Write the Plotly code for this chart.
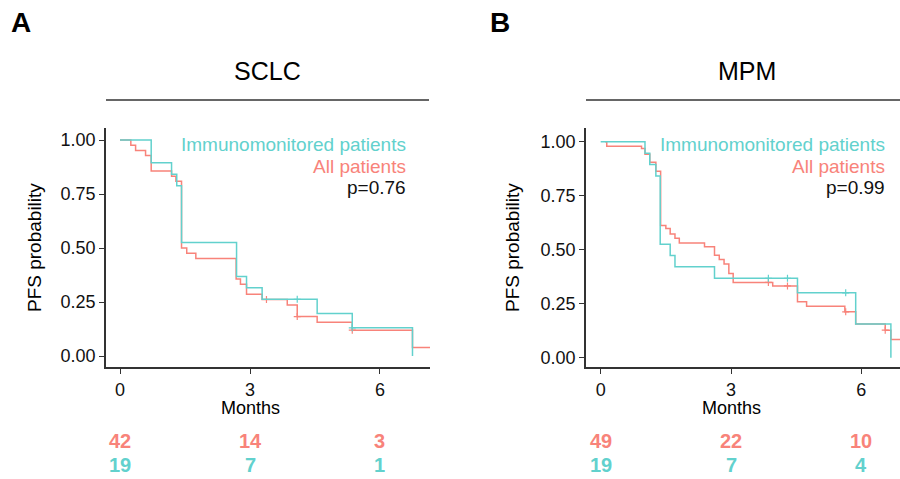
import plotly.graph_objects as go

W, H = 900, 479
CYAN = "#62d1cd"
RED = "#f8837a"
FONT = "Liberation Sans, Arial, Helvetica, sans-serif"

# ---------------- data ----------------
# Panel A : SCLC
a_cyan_t = [0, 0.72, 1.19, 1.31, 1.42, 2.69, 2.92, 3.28, 4.55, 5.36, 6.75]
a_cyan_s = [1.0, 0.895, 0.842, 0.789, 0.526, 0.368, 0.316, 0.263, 0.197, 0.131, 0.0]
a_cyan_cens_t = [4.09, 5.36]
a_cyan_cens_s = [0.263, 0.131]

a_red_t = [0, 0.25, 0.36, 0.59, 0.72, 1.19, 1.29, 1.42, 1.54, 1.75, 2.68, 2.78, 2.92,
           3.28, 3.86, 4.09, 4.55, 5.36, 6.75, 7.4]
a_red_s = [1.0, 0.976, 0.952, 0.929, 0.857, 0.833, 0.81, 0.5, 0.476, 0.452, 0.357, 0.333,
           0.286, 0.262, 0.236, 0.183, 0.157, 0.12, 0.04, 0.04]
a_red_cens_t = [3.38, 4.09, 5.36]
a_red_cens_s = [0.262, 0.183, 0.12]

# Panel B : MPM
b_cyan_t = [0, 1.02, 1.13, 1.27, 1.37, 1.6, 1.71, 2.62, 4.53, 5.87, 6.68]
b_cyan_s = [1.0, 0.947, 0.895, 0.842, 0.526, 0.474, 0.421, 0.368, 0.301, 0.156, 0.0]
b_cyan_cens_t = [3.86, 4.3, 5.64]
b_cyan_cens_s = [0.368, 0.368, 0.301]

b_red_t = [0.1, 0.14, 0.94, 1.02, 1.13, 1.27, 1.38, 1.5, 1.6, 1.71, 1.81, 2.39, 2.62, 2.73,
           2.84, 2.95, 3.05, 3.96, 4.53, 4.74, 5.62, 5.87, 6.55, 6.68, 7.3]
b_red_s = [1.0, 0.98, 0.969, 0.943, 0.905, 0.864, 0.612, 0.599, 0.573, 0.554, 0.532, 0.514,
           0.475, 0.455, 0.434, 0.39, 0.349, 0.333, 0.259, 0.239, 0.213, 0.156, 0.128, 0.085, 0.085]
b_red_cens_t = [3.86, 4.3, 5.64, 6.55]
b_red_cens_s = [0.349, 0.333, 0.213, 0.128]

x_ticks = [0, 3, 6]
y_ticks = [0, 0.25, 0.5, 0.75, 1.0]
y_ticklabels = ["0.00", "0.25", "0.50", "0.75", "1.00"]

panels = ["SCLC", "MPM"]
panel_letters = ["A", "B"]
p_values = ["p=0.76", "p=0.99"]
risk_all = [[42, 14, 3], [49, 22, 10]]
risk_immuno = [[19, 7, 1], [19, 7, 4]]
legend_immuno = "Immunomonitored patients"
legend_all = "All patients"


def px(x):
    return x / W


def py(y):
    return 1 - y / H


fig = go.Figure()

series = [
    (a_cyan_t, a_cyan_s, a_cyan_cens_t, a_cyan_cens_s, a_red_t, a_red_s, a_red_cens_t, a_red_cens_s),
    (b_cyan_t, b_cyan_s, b_cyan_cens_t, b_cyan_cens_s, b_red_t, b_red_s, b_red_cens_t, b_red_cens_s),
]

for i, (ct, cs, cct, ccs, rt, rs, rct, rcs) in enumerate(series):
    xa = "x" if i == 0 else "x2"
    ya = "y" if i == 0 else "y2"
    fig.add_trace(go.Scatter(x=rt, y=rs, mode="lines", line=dict(color=RED, width=1.5, shape="hv"),
                             xaxis=xa, yaxis=ya, showlegend=False, hoverinfo="skip"))
    fig.add_trace(go.Scatter(x=rct, y=rcs, mode="markers",
                             marker=dict(symbol="cross-thin", size=5, line=dict(color=RED, width=1.2)),
                             xaxis=xa, yaxis=ya, showlegend=False, hoverinfo="skip"))
    fig.add_trace(go.Scatter(x=ct, y=cs, mode="lines", line=dict(color=CYAN, width=1.5, shape="hv"),
                             xaxis=xa, yaxis=ya, showlegend=False, hoverinfo="skip"))
    fig.add_trace(go.Scatter(x=cct, y=ccs, mode="markers",
                             marker=dict(symbol="cross-thin", size=5, line=dict(color=CYAN, width=1.2)),
                             xaxis=xa, yaxis=ya, showlegend=False, hoverinfo="skip"))

axis_common = dict(showgrid=False, zeroline=False, showline=True, linecolor="#333", linewidth=1.5,
                   ticks="outside", ticklen=5, tickwidth=1, tickcolor="#333",
                   tickfont=dict(family=FONT, size=18, color="#111"), fixedrange=True)

fig.update_layout(
    width=W, height=H, margin=dict(l=0, r=0, t=0, b=0),
    plot_bgcolor="white", paper_bgcolor="white",
    xaxis=dict(domain=[px(106), px(430)], range=[-0.323, 7.154], tickvals=x_ticks,
               anchor="y", **axis_common),
    yaxis=dict(domain=[py(367.3), py(128)], range=[-0.052, 1.056], tickvals=y_ticks,
               ticktext=y_ticklabels, anchor="x", **axis_common),
    xaxis2=dict(domain=[px(586), px(900)], range=[-0.338, 6.89], tickvals=x_ticks,
                anchor="y2", **axis_common),
    yaxis2=dict(domain=[py(367.3), py(128)], range=[-0.044, 1.064], tickvals=y_ticks,
                ticktext=y_ticklabels, anchor="x2", **axis_common),
)

ann = []
shapes = []
layout_px = [
    dict(letter_x=21, title_x=267, line=(106, 429), ytitle_x=35, months_x=250, legend_x=408, xa="x", ya="y"),
    dict(letter_x=500, title_x=747, line=(586, 900), ytitle_x=513, months_x=731, legend_x=887, xa="x2", ya="y2"),
]
for i, L in enumerate(layout_px):
    ann.append(dict(text="<b>%s</b>" % panel_letters[i], x=px(L["letter_x"]), y=py(23), xref="paper", yref="paper",
                    showarrow=False, font=dict(family=FONT, size=28, color="black"), xanchor="center", yanchor="middle"))
    ann.append(dict(text=panels[i], x=px(L["title_x"]), y=py(71), xref="paper", yref="paper",
                    showarrow=False, font=dict(family=FONT, size=25, color="black"), xanchor="center", yanchor="middle"))
    shapes.append(dict(type="line", xref="paper", yref="paper", x0=px(L["line"][0]), x1=px(L["line"][1]),
                       y0=py(100), y1=py(100), line=dict(color="#333", width=1.5)))
    ann.append(dict(text="PFS probability", x=px(L["ytitle_x"]), y=py(248), xref="paper", yref="paper",
                    textangle=-90, showarrow=False, font=dict(family=FONT, size=19, color="black"),
                    xanchor="center", yanchor="middle"))
    ann.append(dict(text="Months", x=px(L["months_x"]), y=py(408), xref="paper", yref="paper",
                    showarrow=False, font=dict(family=FONT, size=18, color="black"), xanchor="center", yanchor="middle"))
    for txt, yy, col in [(legend_immuno, 144, CYAN), (legend_all, 166, RED), (p_values[i], 187, "#111")]:
        ann.append(dict(text=txt, x=px(L["legend_x"]), y=py(yy), xref="paper", yref="paper",
                        showarrow=False, font=dict(family=FONT, size=19, color=col), xanchor="right", yanchor="middle"))
    for j, t in enumerate(x_ticks):
        ann.append(dict(text="<b>%d</b>" % risk_all[i][j], x=t, y=py(441), xref=L["xa"], yref="paper",
                        showarrow=False, font=dict(family=FONT, size=20, color=RED), xanchor="center", yanchor="middle"))
        ann.append(dict(text="<b>%d</b>" % risk_immuno[i][j], x=t, y=py(465), xref=L["xa"], yref="paper",
                        showarrow=False, font=dict(family=FONT, size=20, color=CYAN), xanchor="center", yanchor="middle"))

fig.update_layout(annotations=ann, shapes=shapes)
fig.write_html("out.html")
